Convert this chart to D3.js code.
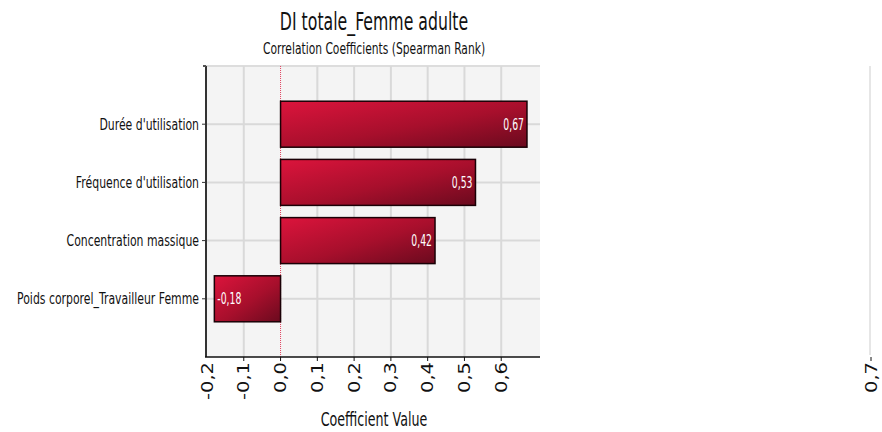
<!DOCTYPE html>
<html>
<head>
<meta charset="utf-8">
<script src="https://cdn.jsdelivr.net/npm/d3@7"></script>
<style>
  body { margin: 0; background: #fff; }
  text { font-family: "DejaVu Sans", sans-serif; fill: #111; }
</style>
</head>
<body>
<svg id="chart" width="882" height="432"></svg>
<script>
// data
const categories = ["Durée d'utilisation", "Fréquence d'utilisation", "Concentration massique", "Poids corporel_Travailleur Femme"];
const values = [0.67, 0.53, 0.42, -0.18];
const labels = ["0,67", "0,53", "0,42", "-0,18"];
const tickValues = [-0.2, -0.1, 0, 0.1, 0.2, 0.3, 0.4, 0.5, 0.6];
const strayTick = 0.7; // drawn far to the right in the original

const svg = d3.select("#chart");
const plot = { left: 206, right: 540, top: 66, bottom: 357 };

const x = d3.scaleLinear().domain([-0.2, 0.7]).range([207, 538]);
const y = d3.scalePoint().domain(categories).range([plot.top, plot.bottom]).padding(1);
const barH = y.step() * 0.79;
const fmt = (v) => d3.format(".1f")(v).replace(".", ",").replace("−", "-");

// narrow text helper: the original uses a condensed face
function label(parent, tx, ty, str, size, sx, anchor) {
  const g = parent.append("g").attr("transform", `translate(${tx},${ty}) scale(${sx},1)`);
  return g.append("text")
    .attr("text-anchor", anchor)
    .attr("font-size", size)
    .text(str);
}

// gradient for bars
const defs = svg.append("defs");
const grad = defs.append("linearGradient")
  .attr("id", "barGrad")
  .attr("x1", "0%").attr("y1", "0%")
  .attr("x2", "100%").attr("y2", "100%");
grad.append("stop").attr("offset", "0%").attr("stop-color", "#dc143c");
grad.append("stop").attr("offset", "55%").attr("stop-color", "#a70f2c");
grad.append("stop").attr("offset", "100%").attr("stop-color", "#6a0a1e");

// plot background
svg.append("rect")
  .attr("x", plot.left).attr("y", plot.top)
  .attr("width", plot.right - plot.left).attr("height", plot.bottom - plot.top)
  .attr("fill", "#f4f4f4");

// top border (faint)
svg.append("line")
  .attr("x1", plot.left).attr("x2", plot.right)
  .attr("y1", plot.top).attr("y2", plot.top)
  .attr("stroke", "#dddddd").attr("stroke-width", 2);

// vertical grid
svg.append("g").selectAll("line")
  .data(tickValues.filter((d) => d !== 0 && d !== -0.2))
  .enter().append("line")
  .attr("x1", (d) => x(d)).attr("x2", (d) => x(d))
  .attr("y1", plot.top).attr("y2", plot.bottom)
  .attr("stroke", "#d9d9d9").attr("stroke-width", 2);

// horizontal grid
svg.append("g").selectAll("line")
  .data(categories)
  .enter().append("line")
  .attr("x1", plot.left).attr("x2", plot.right)
  .attr("y1", (d) => y(d)).attr("y2", (d) => y(d))
  .attr("stroke", "#d9d9d9").attr("stroke-width", 2);

// zero line
svg.append("line")
  .attr("x1", x(0)).attr("x2", x(0))
  .attr("y1", plot.top).attr("y2", plot.bottom)
  .attr("stroke", "#e0405e").attr("stroke-width", 1).attr("stroke-dasharray", "1,1");

// bars
const bars = svg.append("g").selectAll("g")
  .data(categories)
  .enter().append("g");

bars.append("rect")
  .attr("x", (d, i) => Math.min(x(0), x(values[i])))
  .attr("y", (d) => y(d) - barH / 2)
  .attr("width", (d, i) => Math.abs(x(values[i]) - x(0)))
  .attr("height", barH)
  .attr("fill", "url(#barGrad)")
  .attr("stroke", "#1a0006")
  .attr("stroke-width", 1.5);

bars.each(function (d, i) {
  const pos = values[i] >= 0;
  label(d3.select(this), pos ? x(values[i]) - 3 : x(values[i]) + 3, y(d) + 5.5,
    labels[i], 15, 0.62, pos ? "end" : "start")
    .style("fill", "#ffffff");
});

// left axis
svg.append("line")
  .attr("x1", plot.left).attr("x2", plot.left)
  .attr("y1", plot.top).attr("y2", plot.bottom)
  .attr("stroke", "#333").attr("stroke-width", 2);
svg.append("line")
  .attr("x1", plot.left - 3).attr("x2", plot.left)
  .attr("y1", plot.top).attr("y2", plot.top)
  .attr("stroke", "#555").attr("stroke-width", 2);

const yAxis = svg.append("g");
yAxis.selectAll("line")
  .data(categories).enter().append("line")
  .attr("x1", plot.left - 4).attr("x2", plot.left)
  .attr("y1", (d) => y(d)).attr("y2", (d) => y(d))
  .attr("stroke", "#333").attr("stroke-width", 1);
categories.forEach((c) => label(yAxis, plot.left - 7, y(c) + 5.5, c, 16, 0.68, "end"));

// bottom axis
svg.append("line")
  .attr("x1", plot.left - 1).attr("x2", plot.right)
  .attr("y1", plot.bottom).attr("y2", plot.bottom)
  .attr("stroke", "#111").attr("stroke-width", 1.5);

const xAxis = svg.append("g");
xAxis.selectAll("line")
  .data(tickValues.filter((d) => d !== -0.2)).enter().append("line")
  .attr("x1", (d) => x(d)).attr("x2", (d) => x(d))
  .attr("y1", plot.bottom).attr("y2", plot.bottom + 4)
  .attr("stroke", "#111").attr("stroke-width", 1);
xAxis.selectAll("text")
  .data(tickValues).enter().append("text")
  .attr("transform", (d) => `translate(${x(d) + 5.5},${plot.bottom + 5}) rotate(-90) scale(1.3,1)`)
  .attr("text-anchor", "end")
  .attr("font-size", 15)
  .text((d) => fmt(d));

// stray 0.7 tick far right, with its faint gridline
const strayX = 871;
svg.append("line")
  .attr("x1", strayX - 1).attr("x2", strayX - 1)
  .attr("y1", plot.top).attr("y2", plot.bottom - 2)
  .attr("stroke", "#e6e6e6").attr("stroke-width", 2);
svg.append("line")
  .attr("x1", strayX).attr("x2", strayX)
  .attr("y1", plot.bottom).attr("y2", plot.bottom + 4)
  .attr("stroke", "#111").attr("stroke-width", 1);
svg.append("text")
  .attr("transform", `translate(${strayX + 5.5},${plot.bottom + 5}) rotate(-90) scale(1.3,1)`)
  .attr("text-anchor", "end")
  .attr("font-size", 15)
  .text(fmt(strayTick));

// titles
label(svg, 374, 30, "DI totale_Femme adulte", 24, 0.656, "middle");
label(svg, 374, 54, "Correlation Coefficients (Spearman Rank)", 16, 0.67, "middle");
label(svg, 374, 426, "Coefficient Value", 20, 0.634, "middle");
</script>
</body>
</html>
